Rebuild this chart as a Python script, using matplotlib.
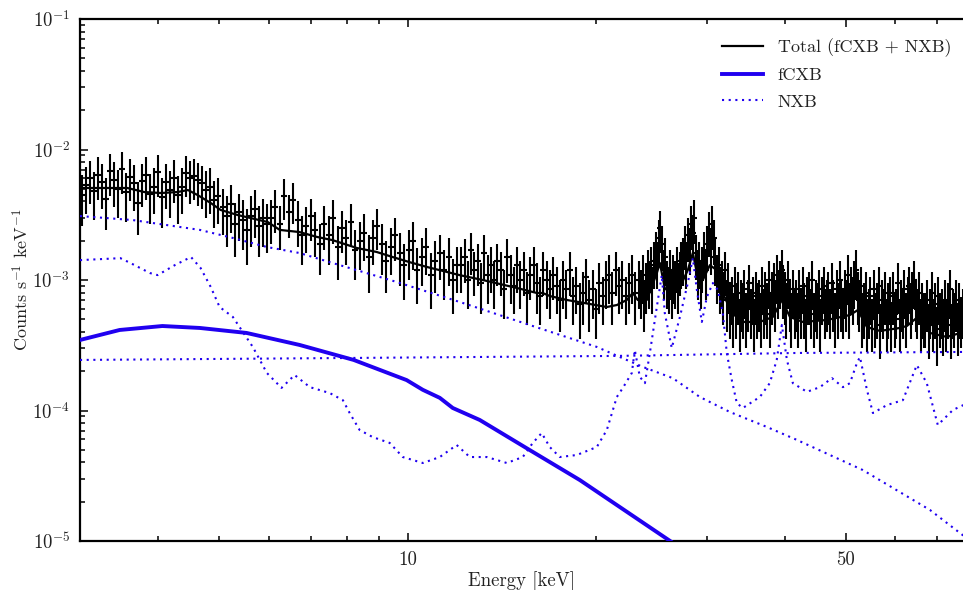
import numpy as np
import matplotlib
matplotlib.use("Agg")
import matplotlib.pyplot as plt
from matplotlib.ticker import FixedLocator, FixedFormatter, LogLocator, FuncFormatter, NullFormatter

plt.rcParams["font.family"] = ["cmr10", "DejaVu Serif"]
plt.rcParams["mathtext.fontset"] = "cm"
plt.rcParams["axes.formatter.use_mathtext"] = True

# ---------------- data (counts s^-1 keV^-1, spectra in units of 1e-4) ----------------
UNIT = 1e-4
seg_edges = [3.0, 6.0, 12.1, 23.5, 77.0]   # energy range of each group of bins (keV)

counts_3_6 = [45, 53, 60, 48, 64, 56, 42, 68, 58, 50, 71, 47, 62, 55, 39, 57, 64, 46, 52, 67,
              43, 56, 49, 61, 45, 52, 66, 60,
              63, 58, 55, 49, 52, 41, 44,
              36, 31, 38, 27, 33, 29, 24, 31, 35, 26, 30, 27]
err_3_6 = [19, 21, 22, 19, 23, 21, 18, 24, 22, 20, 25, 19, 22, 21, 17, 21, 23, 19, 20, 24,
           18, 21, 19, 22, 18, 20, 23, 22,
           22, 21, 20, 19, 20, 16, 17,
           14, 13, 15, 12, 13, 12, 11, 13, 14, 11, 12, 11]

counts_6_12 = [30, 36, 27, 44, 33, 41, 29, 22, 26, 31,
               24, 19, 27, 22, 30, 18, 25, 21, 28, 17,
               20, 23, 15, 21, 26, 19, 14, 18, 22, 16,
               13, 17, 20, 12, 15, 18, 11, 14, 16, 12,
               15, 10, 13]
err_6_12 = [11, 13, 10, 15, 12, 14, 11, 9, 10, 11,
            9, 8, 10, 9, 11, 8, 9, 8, 10, 7,
            8, 9, 7, 8, 9, 8, 6, 7, 8, 7,
            6, 7, 8, 5.5, 6, 7, 5, 6, 6, 5,
            6, 4.5, 5]

counts_12_24 = [13, 15, 10, 17, 12, 14, 9.5, 16, 11, 13,
                10, 14, 12, 8.5, 15, 11, 9, 13, 10, 12,
                8, 11, 13, 9.5, 7.5, 12, 10, 8.5, 11, 9,
                7, 10, 8.5, 12, 7.5, 9, 6.5, 8, 10.5, 7,
                8.5, 6, 9.5, 7.5, 10, 11, 8, 12, 9, 10,
                7.5, 9.5, 11, 8, 10]
err_12_24 = [5, 5.5, 4, 6, 4.5, 5, 4, 6, 4.5, 5,
             4, 5, 4.5, 3.5, 5.5, 4.5, 3.5, 5, 4, 4.5,
             3.5, 4, 5, 4, 3, 4.5, 4, 3.5, 4, 3.5,
             3, 4, 3.5, 4.5, 3, 3.5, 3, 3.5, 4, 3,
             3.5, 2.5, 4, 3, 4, 4.5, 3.5, 4.5, 3.5, 4,
             3, 4, 4.5, 3.5, 4]

counts_24_77 = [8.5, 11, 7, 9.5, 12,
                10, 13, 9, 14,
                17, 14, 21, 25, 19,
                12, 15, 10,
                9, 12, 8.5, 11,
                10, 13, 9.5, 12, 14,
                15, 19, 14, 22, 18,
                27, 23, 30,
                16, 12, 14, 10,
                13, 17, 12, 19,
                24, 18, 27, 21,
                15, 11, 13, 9,
                10, 8, 12, 7, 9.5, 6.5,
                7.5, 5.5, 9, 6.5, 8, 5, 7,
                6.5, 8.5, 5.5, 7, 9.5, 6, 7.5, 5, 8, 6.5,
                7, 5.5, 9, 6, 8, 6.5, 10, 5.5,
                8, 9.5, 7, 11, 8.5, 10,
                12, 9,
                8, 6.5, 10, 7, 5.5, 8.5, 6,
                7, 5.5, 8.5, 6, 9, 6.5, 5, 7.5, 8, 6, 10, 5.5, 7, 6.5, 8.5, 5, 7.5, 9, 6, 7,
                8, 6, 9.5, 7, 5.5, 8.5, 6.5, 10, 7, 6,
                8.5, 7, 11, 6.5, 9, 7.5, 10,
                12, 8,
                7, 9, 5.5, 6.5, 8, 5,
                6, 7.5, 5, 8.5, 5.5, 6.5, 9, 4.5, 7, 6, 8, 5, 6.5, 7.5, 4.8, 8, 5.5, 6, 9.5, 5,
                7, 6, 8.5, 5.5, 7.5, 9, 6.5, 8, 10, 7,
                6, 8, 5, 6.5, 5.5,
                5.5, 7, 4.5, 6, 8, 5, 6.5, 4.2, 7.5, 5.5, 6, 4.8, 7, 5, 6.5, 8.5, 4.5, 6, 5.5, 7, 4.6, 6.5, 5.2, 6]
err_24_77 = [3.5, 4.5, 3, 4, 5,
             4, 5, 3.5, 5.5,
             6.5, 5.5, 8, 9, 7,
             5, 6, 4,
             3.5, 5, 3.5, 4.5,
             4, 5, 4, 4.5, 5.5,
             6, 7, 5.5, 8, 7,
             10, 8.5, 11,
             6, 5, 5.5, 4,
             5, 6.5, 5, 7,
             9, 7, 10, 8,
             6, 4.5, 5, 3.5,
             4, 3.5, 4.5, 3, 4, 3,
             3, 2.5, 3.5, 3, 3.5, 2.2, 3,
             3, 3.5, 2.5, 3, 3.5, 2.5, 3, 2.2, 3.5, 3,
             3, 2.5, 3.5, 2.5, 3.5, 3, 4, 2.5,
             3.5, 4, 3, 4.5, 3.5, 4,
             5, 4,
             3.5, 3, 4, 3, 2.5, 3.5, 2.5,
             3, 2.5, 3.5, 2.5, 3.5, 3, 2.2, 3, 3.5, 2.5, 4, 2.5, 3, 3, 3.5, 2.2, 3, 3.5, 2.5, 3,
             3.5, 2.5, 4, 3, 2.5, 3.5, 3, 4, 3, 2.5,
             3.5, 3, 4.5, 3, 3.5, 3, 4,
             5, 3.5,
             3, 3.5, 2.5, 3, 3.5, 2.2,
             2.5, 3, 2.2, 3.5, 2.5, 3, 3.5, 2, 3, 2.5, 3.5, 2.2, 3, 3, 2, 3.5, 2.5, 2.5, 4, 2.2,
             3, 2.5, 3.5, 2.5, 3, 3.5, 3, 3.5, 4, 3,
             2.5, 3.5, 2.2, 3, 2.5,
             2.5, 3, 2, 2.5, 3.5, 2.2, 3, 2, 3, 2.5, 2.5, 2.2, 3, 2.2, 3, 3.5, 2, 2.5, 2.5, 3, 2, 3, 2.2, 2.5]

# Total model (fCXB + NXB), values in units of 1e-4
total_E = [3.0, 3.57, 3.80, 4.04, 4.29, 4.46, 4.62, 4.85, 5.03, 5.35,
           5.98, 6.25, 6.72, 7.16, 7.59, 8.29, 8.92, 9.46, 10.07, 10.72,
           12.10, 13.17, 14.93, 16.07, 16.42, 16.85, 17.94, 19.52, 20.78, 21.56,
           22.36, 22.86, 23.28, 24.07, 24.97, 25.25, 25.71, 26.38, 27.18, 27.98,
           28.50, 29.03, 29.57, 30.34, 31.13, 31.82, 32.89, 34.25, 36.46, 38.24,
           39.53, 40.72, 42.70, 46.64, 50.76, 52.27, 54.03, 56.67, 60.97, 62.56,
           65.14, 68.08, 72.49, 77.0]
total_v = [50.7, 50.7, 47.2, 46.4, 47.2, 48.9, 44.8, 38.9, 34.4, 31.5,
           27.8, 24.2, 23.3, 21.4, 20.2, 17.6, 16.4, 15.0, 13.7, 12.6,
           10.9, 10.0, 8.69, 7.95, 7.95, 7.54, 7.03, 6.55, 6.21, 6.43,
           7.03, 7.95, 7.03, 7.03, 11.3, 13.5, 8.69, 7.67, 8.84, 11.9,
           16.1, 10.5, 10.0, 13.0, 11.9, 7.95, 5.59, 4.77, 4.77, 5.21,
           7.03, 5.21, 4.77, 4.94, 5.39, 5.89, 4.36, 4.07, 4.29, 4.44,
           5.21, 3.93, 3.66, 3.99]

# fCXB model
fcxb_E = [3.0, 3.47, 4.06, 4.66, 5.53, 6.72, 8.20, 9.96, 10.57, 11.25, 11.80, 13.03, 15.65, 18.82, 26.22, 35.0]
fcxb_v = [3.47e-4, 4.14e-4, 4.44e-4, 4.29e-4, 3.93e-4, 3.18e-4, 2.44e-4, 1.71e-4, 1.44e-4, 1.25e-4,
          1.045e-4, 8.46e-5, 4.98e-5, 2.93e-5, 1.0e-5, 3.8e-6]

# NXB components
nxb_cont_E = [3.0, 3.64, 4.66, 5.26, 5.96, 6.72, 7.51, 9.60, 12.24, 15.65, 20.03, 21.80, 23.71,
              26.48, 29.24, 32.66, 37.41, 41.78, 53.2, 68.1, 77.0]
nxb_cont_v = [3.09e-3, 2.88e-3, 2.42e-3, 2.10e-3, 1.79e-3, 1.61e-3, 1.37e-3, 9.66e-4, 6.67e-4, 4.52e-4,
              3.07e-4, 2.57e-4, 2.16e-4, 1.77e-4, 1.27e-4, 9.74e-5, 7.48e-5, 5.95e-5, 3.50e-5, 1.73e-5, 1.10e-5]

nxb_flat_E = [3.0, 7.51, 21.6, 41.8, 77.0]
nxb_flat_v = [2.44e-4, 2.52e-4, 2.62e-4, 2.76e-4, 2.81e-4]

nxb_lines_E = [3.0, 3.48, 3.61, 3.88, 3.99, 4.25, 4.51, 4.67, 4.85, 5.01, 5.26, 5.66, 5.96, 6.29, 6.60,
               6.98, 7.51, 7.88, 8.08, 8.38, 8.79, 9.36, 9.82, 10.57, 11.25, 11.97, 12.56, 13.37, 14.39,
               15.26, 15.83, 16.36, 16.85, 17.48, 18.61, 20.03, 20.78, 21.56, 22.04, 22.78, 23.03, 23.46,
               23.90, 24.34, 24.97, 25.43, 25.71, 26.38, 27.18, 27.98, 28.50, 28.93, 29.46, 30.01, 30.68,
               31.25, 31.82, 32.29, 32.89, 33.50, 34.25, 36.46, 37.81, 38.79, 39.53, 40.27, 41.16, 43.34,
               45.46, 47.51, 49.47, 50.76, 52.08, 52.66, 54.03, 55.24, 58.14, 61.66, 64.90, 67.32, 70.10,
               74.11, 77.0]
nxb_lines_v = [14.2, 14.7, 13.5, 11.3, 10.9, 13.0, 15.0, 12.4, 8.84, 6.21, 5.21, 3.07, 1.94, 1.49, 1.87,
               1.51, 1.36, 1.20, 0.956, 0.709, 0.626, 0.564, 0.440, 0.396, 0.440, 0.544, 0.440, 0.440, 0.396,
               0.440, 0.564, 0.672, 0.525, 0.440, 0.456, 0.525, 0.709, 1.27, 1.49, 1.94, 2.91, 1.81,
               1.62, 2.76, 6.21, 10.9, 5.59, 3.01, 5.21, 9.48, 14.7, 8.38, 4.77, 7.41, 9.48,
               8.38, 5.59, 2.76, 1.71, 1.14, 1.045, 1.27, 1.62, 2.44, 4.52, 2.44, 1.62, 1.39,
               1.51, 1.77, 1.51, 1.62, 2.31, 2.57, 1.44, 0.956, 1.10, 1.20, 2.23, 1.62, 0.774,
               1.01, 1.10]

x_major = [10, 50]
x_major_labels = ["10", "50"]
x_minor = [4, 5, 6, 7, 8, 9, 20, 30, 40, 60, 70]

# ---------------- plotting ----------------
BLUE = "#2000f0"
TXT = "#222222"

fig = plt.figure(figsize=(9.63, 5.90), dpi=100)
ax = fig.add_axes([80 / 963, 49 / 590, 883 / 963, 522 / 590])
ax.set_xscale("log")
ax.set_yscale("log")

groups = [(counts_3_6, err_3_6), (counts_6_12, err_6_12), (counts_12_24, err_12_24), (counts_24_77, err_24_77)]
for k, (vals, errs) in enumerate(groups):
    n = min(len(vals), len(errs))
    edges = np.geomspace(seg_edges[k], seg_edges[k + 1], n + 1)
    centres = np.sqrt(edges[:-1] * edges[1:])
    ax.errorbar(centres, np.asarray(vals[:n]) * UNIT, yerr=np.asarray(errs[:n]) * UNIT,
                fmt="_", color="black", ms=5, mew=1.5, elinewidth=1.5, capsize=0, zorder=2)

ax.plot(total_E, np.asarray(total_v) * UNIT, color="black", lw=1.6, zorder=3, label="Total (fCXB + NXB)")
ax.plot(fcxb_E, fcxb_v, color=BLUE, lw=2.8, zorder=4, label="fCXB")
dot = (0, (1, 2.2))
ax.plot(nxb_cont_E, nxb_cont_v, color=BLUE, lw=1.5, ls=dot, zorder=4, label="NXB")
ax.plot(nxb_flat_E, nxb_flat_v, color=BLUE, lw=1.5, ls=dot, zorder=4)
ax.plot(nxb_lines_E, np.asarray(nxb_lines_v) * UNIT, color=BLUE, lw=1.5, ls=dot, zorder=4)

ax.set_xlim(3.0, 76.9)
ax.set_ylim(1e-5, 1e-1)

ax.xaxis.set_major_locator(FixedLocator(x_major))
ax.xaxis.set_major_formatter(FixedFormatter(x_major_labels))
ax.xaxis.set_minor_locator(FixedLocator(x_minor))
ax.xaxis.set_minor_formatter(NullFormatter())
ax.yaxis.set_major_locator(FixedLocator([1e-5, 1e-4, 1e-3, 1e-2, 1e-1]))
ax.yaxis.set_major_formatter(FuncFormatter(lambda v, p: r"$10^{%d}$" % int(round(np.log10(v)))))
ax.yaxis.set_minor_locator(LogLocator(base=10, subs=np.arange(2, 10), numticks=30))
ax.yaxis.set_minor_formatter(NullFormatter())

ax.tick_params(which="both", direction="in", top=True, right=False, width=1.1,
               labelsize=13.5, labelcolor=TXT)
ax.tick_params(which="major", length=6, pad=7)
ax.tick_params(which="minor", length=3.3)
for s in ax.spines.values():
    s.set_linewidth(1.6)
ax.spines["right"].set_visible(False)

ax.set_xlabel("Energy [keV]", fontsize=13.5, color=TXT, labelpad=2)
ax.set_ylabel(r"Counts s$^{-1}$ keV$^{-1}$", fontsize=13, color=TXT, labelpad=1)

leg = ax.legend(loc="upper right", bbox_to_anchor=(1.0, 0.986), frameon=False, fontsize=13,
                handlelength=2.3, labelspacing=0.6, borderaxespad=0.25, handletextpad=0.8)
for t in leg.get_texts():
    t.set_color(TXT)

fig.savefig("out.png", dpi=100)
